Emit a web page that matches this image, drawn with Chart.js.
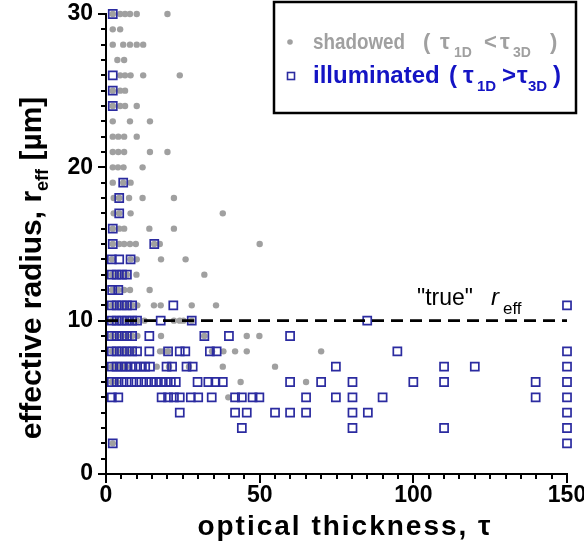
<!DOCTYPE html>
<html>
<head>
<meta charset="utf-8">
<title>Effective radius vs optical thickness</title>
<script src="https://cdn.jsdelivr.net/npm/chart.js@4.4.1/dist/chart.umd.min.js"></script>
<style>
    html, body { margin: 0; padding: 0; background: #fff; }
    #wrap { width: 584px; height: 552px; }
</style>
</head>
<body>
<div id="wrap"><canvas id="chartReff" width="584" height="552"></canvas></div>
<script>
// =========================================================
// r_eff vs tau scatter: shadowed pixels (gray dots) and
// illuminated pixels (blue squares), "true" r_eff = 10 µm
// =========================================================

const FONT = '"Liberation Sans", Arial, Helvetica, sans-serif';

// ── Axes ──
const tauMin = 0, tauMax = 150, tauMajor = 50, tauMinor = 5;
const reffMin = 0, reffMax = 30, reffMajor = 10, reffMinor = 1;

// ── Shadowed pixels (tau_1D < tau_3D): one radius per row, its taus below ──
const shadowedR = [30, 29, 28, 27, 26, 25, 24, 23, 22, 21, 20, 19, 18, 17, 16, 15,
                   14, 13, 12, 11, 10, 9, 8, 7, 6, 5, 2];
const shadowedTau = [
    [2.2, 4.6, 6.2, 7.8, 10, 20],
    [2.2, 4.6],
    [2.2, 5.6, 7.8, 10, 12.1],
    [3.7, 5.9],
    [4.6, 6.2, 8, 12.1, 24],
    [2.2, 4.6, 6.2],
    [2.2, 4.6, 6.2, 10],
    [2.2, 7.8, 14.3],
    [2.2, 4, 5.9, 10],
    [2.2, 4, 5.9, 14.3, 20],
    [2.2, 3.9, 5.7, 11.9],
    [2.2, 5.6, 8],
    [2.5, 4.3, 7.5, 11.9, 22.1],
    [2.5, 4.3, 8, 38],
    [2.2, 4.3, 5.9, 14.1, 22.1],
    [2.2, 4.3, 5.9, 7.8, 9.7, 15.7, 17.5, 50],
    [1.9, 8, 10, 17.9, 25.9],
    [1.9, 3.5, 5.2, 6.8, 9.9, 32],
    [2, 4, 5.9, 7.8, 14.2],
    [1.9, 3.5, 5.2, 6.8, 8.5, 10.2, 15.6, 17.8, 27.9, 35.8],
    [1.9, 3.5, 5.2, 6.8, 8.5, 10.1, 12.5, 22.1, 24, 25.2, 27.9],
    [1.9, 3.5, 5.2, 6.8, 8.5, 10.2, 17.9, 32, 45.8, 49.9],
    [1.9, 3.5, 5.2, 6.8, 8.5, 17.6, 18.7, 20.2, 34.5, 38.2, 42, 45.8, 70],
    [1.9, 3.45, 5, 6.55, 16.5, 20.5, 27, 38, 55],
    [1.9, 3.5, 43.8, 65.1],
    [39.8],
    [2.2]
];

// ── Illuminated pixels (tau_1D > tau_3D) ──
const illuminatedR = [30, 26, 25, 24, 19, 18, 17, 16, 15, 14, 13, 12, 11, 10, 9, 8,
                      7, 6, 5, 4, 3, 2];
const illuminatedTau = [
    [2.2],
    [2.2],
    [2.2],
    [2.2],
    [5.6],
    [4.3],
    [4.3],
    [2.2],
    [2.2, 15.7],
    [1.9, 4.3, 8],
    [1.9, 3.5, 5.2, 6.8],
    [2, 4],
    [1.9, 3.5, 5.2, 6.8, 8.5, 21.9, 150],
    [1.9, 3.5, 5.2, 6.8, 8.5, 10.1, 17.8, 27.9, 85],
    [1.9, 3.5, 5.2, 6.8, 8.5, 14.1, 32, 40, 59.9],
    [1.9, 3.5, 5.2, 6.8, 8.5, 10.1, 14.1, 20.2, 24, 25.8, 33.8, 36, 94.8, 150],
    [1.9, 3.45, 5, 6.55, 8.1, 9.65, 11.2, 12.75, 14.3, 19.7, 21.5, 26.2, 28.2,
     74.8, 110, 120, 150],
    [1.9, 3.5, 5.1, 6.7, 8.3, 9.9, 11.5, 13.1, 14.7, 16.3, 17.9, 19.5, 21.1, 22.7,
     29.8, 33.3, 35.6, 38, 59.9, 70, 80.2, 100, 110, 139.8, 150],
    [1.9, 4, 18.1, 20.2, 22.1, 24, 27.6, 30, 34.4, 42, 44.2, 47.7, 49.9, 65.1,
     74.8, 80.2, 90, 139.8, 150],
    [24, 42, 45.8, 55, 59.9, 65.1, 80.2, 85.2, 150],
    [44.2, 80.2, 110, 150],
    [2.2, 150]
];

// ── "true" r_eff reference line ──
const trueLineTau = [0, 150];
const trueReff = 10;

const GRAY = '#a0a0a0';
const BLUE_MARK = '#2b2ba0';
const BLUE_TEXT = '#1414c4';

// ── Filas -> puntos {x, y} ──
function _toPoints(radii, taus) {
    const pts = [];
    radii.forEach((r, i) => taus[i].forEach(t => pts.push({ x: t, y: r })));
    return pts;
}

// ── Texto con subíndices: runs = [{t, size, dy, italic, bold}] ──
function _runFont(run) {
    return (run.italic ? 'italic ' : '') + (run.bold === false ? '' : 'bold ') + run.size + 'px ' + FONT;
}
function _drawRuns(ctx, runs, x, y) {
    let cx = x;
    runs.forEach(run => {
        ctx.font = _runFont(run);
        ctx.fillText(run.t, cx, y + (run.dy || 0));
        cx += ctx.measureText(run.t).width;
    });
    return cx - x;
}
function _runsWidth(ctx, runs) {
    let w = 0;
    runs.forEach(run => {
        ctx.font = _runFont(run);
        w += ctx.measureText(run.t).width;
    });
    return w;
}

// ── Plugin: fondo, marcas de ejes, títulos, leyenda y etiqueta "true" ──
const decorPlugin = {
    id: 'decor',
    beforeDraw(chart) {
        const { ctx, width, height } = chart;
        ctx.save();
        ctx.fillStyle = '#fff';
        ctx.fillRect(0, 0, width, height);
        ctx.restore();
    },
    afterDraw(chart) {
        const { ctx, chartArea, scales: { x, y } } = chart;
        ctx.save();

        // tick marks (major long, minor short)
        ctx.strokeStyle = '#000';
        ctx.lineWidth = 2;
        x.ticks.forEach(t => {
            const px = Math.round(x.getPixelForValue(t.value));
            const len = t.value % tauMajor === 0 ? 9 : 5;
            ctx.beginPath();
            ctx.moveTo(px, chartArea.bottom);
            ctx.lineTo(px, chartArea.bottom + len);
            ctx.stroke();
        });
        y.ticks.forEach(t => {
            const py = Math.round(y.getPixelForValue(t.value));
            const len = t.value % reffMajor === 0 ? 8 : 5;
            ctx.beginPath();
            ctx.moveTo(chartArea.left, py);
            ctx.lineTo(chartArea.left - len, py);
            ctx.stroke();
        });

        ctx.fillStyle = '#000';
        ctx.textBaseline = 'alphabetic';
        ctx.textAlign = 'left';

        // x title
        ctx.font = 'bold 28px ' + FONT;
        if ('letterSpacing' in ctx) ctx.letterSpacing = '2px';
        const xt = 'optical thickness, τ';
        const xw = ctx.measureText(xt).width;
        ctx.fillText(xt, 345 - xw / 2, 535);
        if ('letterSpacing' in ctx) ctx.letterSpacing = '0px';

        // y title, rotated, with subscript
        const yRuns = [
            { t: 'effective radius, r', size: 30 },
            { t: 'eff', size: 18, dy: 7 },
            { t: ' [µm]', size: 30 }
        ];
        ctx.save();
        ctx.translate(41, 268);
        ctx.rotate(-Math.PI / 2);
        const yw = _runsWidth(ctx, yRuns);
        _drawRuns(ctx, yRuns, -yw / 2, 0);
        ctx.restore();

        // "true" r_eff label above the dashed line
        ctx.fillStyle = '#000';
        _drawRuns(ctx, [{ t: '"true"', size: 23, bold: false }], 417, 305);
        _drawRuns(ctx, [{ t: 'r', size: 24, bold: false, italic: true }], 491, 305);
        _drawRuns(ctx, [{ t: 'eff', size: 17, bold: false }], 503, 314);

        // legend box
        ctx.lineWidth = 2.5;
        ctx.strokeStyle = '#000';
        ctx.strokeRect(274, 2, 302, 111);

        // shadowed entry
        ctx.fillStyle = GRAY;
        ctx.beginPath();
        ctx.arc(290, 42, 2.8, 0, Math.PI * 2);
        ctx.fill();
        ctx.font = 'bold 22px ' + FONT;
        ctx.fillText('shadowed', 313, 49, 92);
        _drawRuns(ctx, [{ t: '(', size: 22 }], 423, 49);
        _drawRuns(ctx, [{ t: 'τ', size: 22 }], 440, 49);
        _drawRuns(ctx, [{ t: '1D', size: 14 }], 454, 57);
        _drawRuns(ctx, [{ t: '<', size: 22 }], 484, 49);
        _drawRuns(ctx, [{ t: 'τ', size: 22 }], 500, 49);
        _drawRuns(ctx, [{ t: '3D', size: 14 }], 513, 57);
        _drawRuns(ctx, [{ t: ')', size: 22 }], 550, 49);

        // illuminated entry
        ctx.strokeStyle = BLUE_MARK;
        ctx.lineWidth = 1.6;
        ctx.strokeRect(287.5, 72.5, 7, 7);
        ctx.fillStyle = BLUE_TEXT;
        ctx.font = 'bold 24px ' + FONT;
        ctx.fillText('illuminated', 313, 83, 131);
        _drawRuns(ctx, [{ t: '(', size: 24 }], 449, 83);
        _drawRuns(ctx, [{ t: 'τ', size: 24 }], 463, 83);
        _drawRuns(ctx, [{ t: '1D', size: 15 }], 477, 91);
        _drawRuns(ctx, [{ t: '>', size: 24 }], 502, 83);
        _drawRuns(ctx, [{ t: 'τ', size: 24 }], 517, 83);
        _drawRuns(ctx, [{ t: '3D', size: 15 }], 528, 91);
        _drawRuns(ctx, [{ t: ')', size: 24 }], 553, 83);

        ctx.restore();
    }
};

const tickFont = { family: FONT, size: 23, weight: 'bold' };

const chart = new Chart(document.getElementById('chartReff'), {
    type: 'scatter',
    data: {
        datasets: [
            {
                type: 'line',
                label: '"true" r_eff',
                data: trueLineTau.map(t => ({ x: t, y: trueReff })),
                borderColor: '#000',
                borderWidth: 2.6,
                borderDash: [12, 7],
                pointRadius: 0,
                fill: false,
                clip: false
            },
            {
                label: 'illuminated',
                data: _toPoints(illuminatedR, illuminatedTau),
                pointStyle: 'rect',
                pointRadius: 5.7,
                borderColor: BLUE_MARK,
                borderWidth: 1.7,
                backgroundColor: 'rgba(0,0,0,0)',
                clip: false
            },
            {
                label: 'shadowed',
                data: _toPoints(shadowedR, shadowedTau),
                pointStyle: 'circle',
                pointRadius: 3.2,
                borderWidth: 0,
                backgroundColor: GRAY,
                clip: false
            }
        ]
    },
    options: {
        responsive: false,
        animation: false,
        layout: { padding: { top: 14, right: 17, left: 0, bottom: 0 } },
        plugins: {
            legend: { display: false },
            tooltip: { enabled: false }
        },
        scales: {
            x: {
                type: 'linear',
                min: tauMin, max: tauMax,
                border: { color: '#000', width: 2 },
                grid: { display: false, drawTicks: false },
                ticks: {
                    stepSize: tauMinor, autoSkip: false, maxRotation: 0, padding: 8,
                    color: '#000', font: tickFont,
                    callback: v => (v % tauMajor === 0 ? v : '')
                },
                afterFit: s => { s.height = 78; s.paddingLeft = 0; s.paddingRight = 0; }
            },
            y: {
                type: 'linear',
                min: reffMin, max: reffMax,
                border: { color: '#000', width: 2 },
                grid: { display: false, drawTicks: false },
                ticks: {
                    stepSize: reffMinor, autoSkip: false, padding: 13,
                    color: '#000', font: tickFont,
                    callback: v => (v % reffMajor === 0 ? v : '')
                },
                afterFit: s => { s.width = 106; s.paddingTop = 0; s.paddingBottom = 0; }
            }
        }
    },
    plugins: [decorPlugin]
});
</script>
</body>
</html>
